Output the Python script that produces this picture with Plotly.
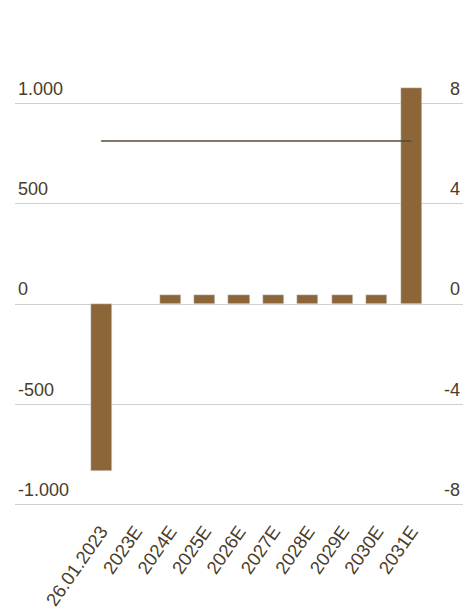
import plotly.graph_objects as go

categories = ["26.01.2023", "2023E", "2024E", "2025E", "2026E", "2027E", "2028E", "2029E", "2030E", "2031E"]
bar_values = [-831, None, 43, 43, 43, 43, 43, 43, 43, 1078]
line_x = ["26.01.2023", "2031E"]
line_values = [6.5, 6.5]

left_tickvals = [-1000, -500, 0, 500, 1000]
left_ticktext = ["-1.000", "-500", "0", "500", "1.000"]
right_tickvals = [-8, -4, 0, 4, 8]
right_ticktext = ["-8", "-4", "0", "4", "8"]

BAR = "#8c6539"
TXT = "#4a3c2a"
GRID = "#cfcfcf"

fig = go.Figure()
fig.add_trace(go.Bar(x=categories, y=bar_values, marker_color=BAR, width=0.61,
                     showlegend=False, hoverinfo="skip"))
fig.add_trace(go.Scatter(x=line_x, y=line_values, yaxis="y2", mode="lines",
                         line=dict(color="#5a4a35", width=1.5), showlegend=False,
                         hoverinfo="skip"))

fig.update_layout(
    width=465, height=610,
    margin=dict(l=15, r=2, t=43, b=103),
    paper_bgcolor="white", plot_bgcolor="white",
    font=dict(family="Liberation Sans, Arial, sans-serif", size=18, color=TXT),
    bargap=0,
    xaxis=dict(type="category", categoryorder="array", categoryarray=categories,
               range=[-2.5, 10.5], showgrid=False, showline=False, zeroline=False,
               tickangle=-55, tickfont=dict(size=18.5, color=TXT), ticks="",
               ticklabelstandoff=9, automargin=False),
    yaxis=dict(range=[-1010, 1300], tickvals=left_tickvals, ticktext=left_ticktext,
               showgrid=True, gridcolor=GRID, gridwidth=1,
               zeroline=True, zerolinecolor=GRID, zerolinewidth=1,
               ticklabelposition="inside", ticklabelshift=-15, ticklabelstandoff=0,
               tickfont=dict(size=18, color=TXT), showline=False, automargin=False),
    yaxis2=dict(range=[-8.08, 10.4], overlaying="y", side="right",
                tickvals=right_tickvals, ticktext=right_ticktext,
                showgrid=False, zeroline=False, showline=False,
                ticklabelposition="inside", ticklabelshift=-15, ticklabelstandoff=0,
                tickfont=dict(size=18, color=TXT), automargin=False),
)

fig.write_html("out.html")
